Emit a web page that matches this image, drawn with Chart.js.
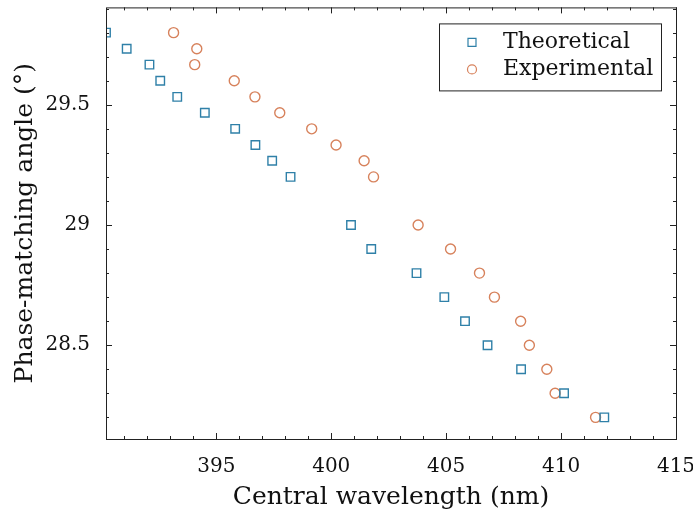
<!DOCTYPE html>
<html>
<head>
<meta charset="utf-8">
<script src="https://cdn.jsdelivr.net/npm/chart.js@4.4.0/dist/chart.umd.min.js"></script>
<style>
  html, body { margin: 0; padding: 0; background: #fff; }
  #wrap { width: 693px; height: 517px; }
</style>
</head>
<body>
<div id="wrap"><canvas id="chart" width="693" height="517"></canvas></div>
<script>
// angles shared by both series (deg)
const angles = [29.8, 29.733, 29.667, 29.6, 29.533, 29.467, 29.4, 29.333, 29.267, 29.2,
                29.0, 28.9, 28.8, 28.7, 28.6, 28.5, 28.4, 28.3, 28.2];
const theoWl = [390.2, 391.1, 392.09, 392.56, 393.3, 394.5, 395.82, 396.7, 397.43, 398.23,
                400.86, 401.74, 403.71, 404.92, 405.82, 406.8, 408.26, 410.13, 411.88];
const expWl  = [393.14, 394.15, 394.06, 395.78, 396.68, 397.76, 399.15, 400.21, 401.43, 401.84,
                403.78, 405.19, 406.45, 407.1, 408.24, 408.62, 409.38, 409.74, 411.5];
const xTicks = [395, 400, 405, 410, 415];
const yTicks = [28.5, 29, 29.5];

const FONT = "'DejaVu Serif', serif";
const BLUE = '#2f80a8';
const ORANGE = '#d7825c';

const toPts = (xs, ys) => xs.map((x, i) => ({ x, y: ys[i] }));

// no extra room for edge labels, the plot box is placed by hand
const noPad = s => { s.paddingTop = 0; s.paddingBottom = 0; s.paddingLeft = 0; s.paddingRight = 0; };

// box + inward ticks on all four sides, like the original figure
const frameTicks = {
    id: 'frameTicks',
    afterDraw(chart) {
        const { ctx, chartArea: a, scales } = chart;
        ctx.save();
        ctx.strokeStyle = '#222';
        ctx.lineWidth = 1;
        ctx.strokeRect(a.left + 0.5, a.top + 0.5, a.right - a.left, a.bottom - a.top);
        const xs = scales.x, ys = scales.y;
        const tick = (x1, y1, x2, y2) => { ctx.beginPath(); ctx.moveTo(x1, y1); ctx.lineTo(x2, y2); ctx.stroke(); };
        for (let v = Math.ceil(xs.min); v <= xs.max + 1e-9; v += 1) {
            const px = Math.round(xs.getPixelForValue(v)) + 0.5;
            const len = xTicks.includes(v) ? 6 : 3;
            tick(px, a.bottom, px, a.bottom - len);
            tick(px, a.top, px, a.top + len);
        }
        for (let k = Math.ceil(ys.min * 10); k <= ys.max * 10 + 1e-9; k++) {
            const v = k / 10;
            const py = Math.round(ys.getPixelForValue(v)) + 0.5;
            const len = yTicks.some(t => Math.abs(t - v) < 1e-6) ? 6 : 3;
            tick(a.left, py, a.left + len, py);
            tick(a.right, py, a.right - len, py);
        }
        ctx.restore();
    }
};

const boxLegend = {
    id: 'boxLegend',
    afterDraw(chart) {
        const { ctx, chartArea: a } = chart;
        const w = 222, h = 67;
        const left = a.right - 15 - w, top = a.top + 16;
        ctx.save();
        ctx.fillStyle = '#fff';
        ctx.fillRect(left, top, w, h);
        ctx.strokeStyle = '#222';
        ctx.lineWidth = 1;
        ctx.strokeRect(left + 0.5, top + 0.5, w, h);
        ctx.font = '22px ' + FONT;
        ctx.textBaseline = 'middle';
        chart.data.datasets.forEach((ds, i) => {
            const cy = top + 19 + i * 27;
            const cx = left + 33;
            ctx.strokeStyle = ds.borderColor;
            ctx.lineWidth = 1.2;
            ctx.beginPath();
            if (ds.pointStyle === 'rect') ctx.rect(cx - 4, cy - 4, 8, 8);
            else ctx.arc(cx, cy, 4.5, 0, Math.PI * 2);
            ctx.stroke();
            ctx.fillStyle = '#111';
            ctx.fillText(ds.label, left + 64, cy);
        });
        ctx.restore();
    }
};

new Chart(document.getElementById('chart'), {
    type: 'scatter',
    data: {
        datasets: [
            {
                label: 'Theoretical',
                data: toPts(theoWl, angles),
                pointStyle: 'rect',
                pointRadius: 6,
                borderColor: BLUE,
                backgroundColor: 'rgba(0,0,0,0)',
                borderWidth: 1.4
            },
            {
                label: 'Experimental',
                data: toPts(expWl, angles),
                pointStyle: 'circle',
                pointRadius: 5,
                borderColor: ORANGE,
                backgroundColor: 'rgba(0,0,0,0)',
                borderWidth: 1.4
            }
        ]
    },
    options: {
        responsive: false,
        animation: false,
        layout: { padding: { top: 6, right: 17, left: 0, bottom: 0 } },
        plugins: {
            legend: { display: false },
            tooltip: { enabled: false }
        },
        scales: {
            x: {
                type: 'linear',
                min: 390.2,
                max: 415,
                afterFit: s => { noPad(s); s.height = 78; },
                afterBuildTicks: s => { s.ticks = xTicks.map(v => ({ value: v })); },
                grid: { display: false, drawTicks: false },
                border: { display: false },
                ticks: { font: { family: FONT, size: 20 }, color: '#111', padding: 16 },
                title: {
                    display: true,
                    text: 'Central wavelength (nm)',
                    font: { family: FONT, size: 25 },
                    color: '#111',
                    padding: { top: 0, bottom: 5 }
                }
            },
            y: {
                type: 'linear',
                min: 28.11,
                max: 29.905,
                afterFit: s => { noPad(s); s.width = 106; },
                afterBuildTicks: s => { s.ticks = yTicks.map(v => ({ value: v })); },
                grid: { display: false, drawTicks: false },
                border: { display: false },
                ticks: {
                    font: { family: FONT, size: 20 },
                    color: '#111',
                    padding: 16,
                    callback: v => String(Math.round(v * 10) / 10)
                },
                title: {
                    display: true,
                    text: 'Phase-matching angle (°)',
                    font: { family: FONT, size: 25 },
                    color: '#111',
                    padding: { top: 10, bottom: 0 }
                }
            }
        }
    },
    plugins: [frameTicks, boxLegend]
});
</script>
</body>
</html>
